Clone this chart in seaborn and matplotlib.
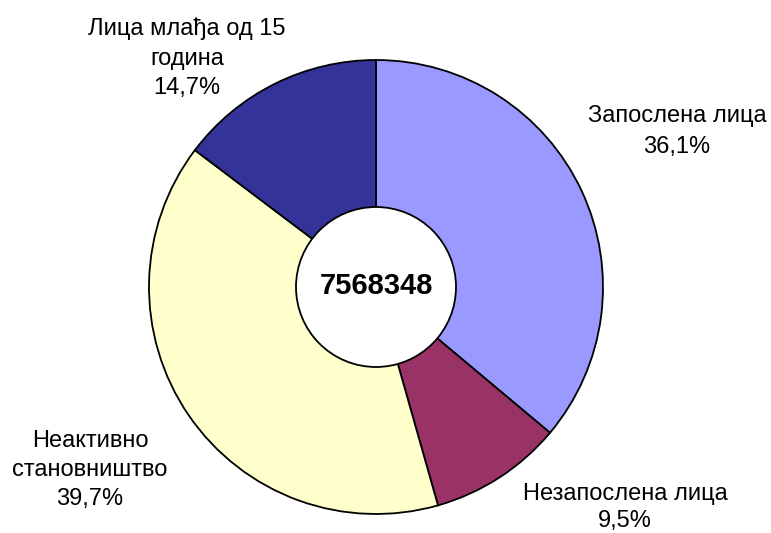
import numpy as np
import matplotlib
matplotlib.use("Agg")
import matplotlib.pyplot as plt
import seaborn as sns

# Data
categories = ["Запослена лица", "Незапослена лица", "Неактивно становништво", "Лица млађа од 15 година"]
shares = [36.1, 9.5, 39.7, 14.7]
share_labels = ["36,1%", "9,5%", "39,7%", "14,7%"]
label_lines = [["Запослена лица"], ["Незапослена лица"], ["Неактивно", "становништво"], ["Лица млађа од 15", "година"]]
total = "7568348"
colors = ["#9999FF", "#993366", "#FFFFCC", "#333399"]

sns.set_theme(style="white")
plt.rcParams['font.family'] = ['Liberation Sans', 'DejaVu Sans']
plt.rcParams['text.color'] = 'black'

H = 533
fig = plt.figure(figsize=(7.71, 5.33), dpi=100)
ax = fig.add_axes([0, 0, 1, 1])

# pie in pixel-like coordinates (y flipped by H)
cx, cy, r = 376, H - 287, 227
ax.pie(shares, colors=colors, startangle=90, counterclock=False,
       center=(cx, cy), radius=r, frame=True,
       wedgeprops={'edgecolor': 'black', 'linewidth': 1.3})
ax.set_xlim(0, 771)
ax.set_ylim(0, H)
ax.set_aspect('equal')
ax.axis('off')

# center hole with total
hole = plt.Circle((cx, cy), 80, facecolor='white', edgecolor='black', linewidth=1.3, zorder=5)
ax.add_patch(hole)
ax.text(cx, H - 294, total, ha='center', va='baseline', fontsize=21, fontweight='bold', zorder=6)

# labels: center x, first baseline, line step
label_pos = [(677, 122, 31), (625, 500, 27), (90, 447, 29), (187, 35, 29.5)]
for lines, pct, (x, y0, step) in zip(label_lines, share_labels, label_pos):
    for i, t in enumerate(lines + [pct]):
        ax.text(x, H - (y0 + i * step), t, ha='center', va='baseline', fontsize=17)

plt.savefig("out.png", dpi=100)
